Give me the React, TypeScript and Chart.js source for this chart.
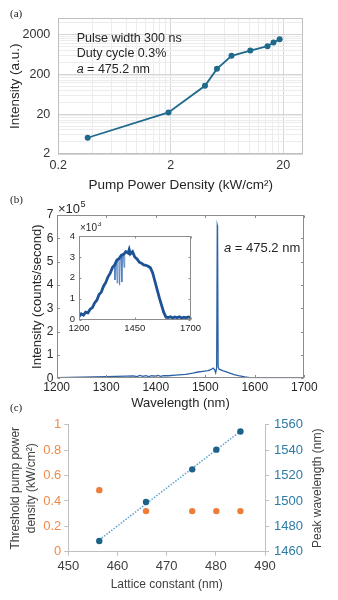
import React, { useEffect, useRef } from 'react';
import { Chart, registerables } from 'chart.js';

Chart.register(...registerables);

const FONT = '"Liberation Sans", Arial, Helvetica, sans-serif';
const SERIF = '"Liberation Serif", "Times New Roman", serif';

// ---------- Panel (a) ----------
const pumpDensity = [0.365, 1.91, 4.03, 5.15, 6.94, 10.2, 14.5, 16.4, 18.6];
const intensityA = [5.1, 22, 102, 271, 574, 780, 1000, 1235, 1500];
const xMajorA = [0.2, 2, 20];
const yMajorA = [2, 20, 200, 2000];
const xRangeA = [0.2, 30];
const yRangeA = [2, 5000];
const noteLinesA = ['Pulse width 300 ns', 'Duty cycle 0.3%'];
const latticeNote = ' = 475.2 nm';

// ---------- Panel (b) ----------
const wlMain = [1200, 1250, 1300, 1340, 1355, 1362, 1368, 1374, 1380, 1386, 1392, 1398, 1404, 1410, 1416, 1425, 1440, 1460, 1475, 1485, 1495, 1506, 1512, 1516, 1519, 1521, 1523, 1524.3, 1524.8, 1526, 1528, 1535, 1547, 1558, 1567, 1580, 1590, 1600, 1650, 1700];
const intMain = [0.03, 0.05, 0.07, 0.09, 0.1, 0.07, 0.12, 0.08, 0.11, 0.07, 0.11, 0.09, 0.12, 0.08, 0.11, 0.11, 0.14, 0.17, 0.22, 0.27, 0.3, 0.33, 0.38, 0.44, 0.36, 0.24, 0.45, 6.55, 6.5, 0.5, 0.39, 0.33, 0.24, 0.16, 0.11, 0.06, 0.03, 0.02, 0.02, 0.02];
const xTicksB = [1200, 1300, 1400, 1500, 1600, 1700];
const yTicksB = [0, 1, 2, 3, 4, 5, 6, 7];

const wlInset = [1200, 1210, 1220, 1230, 1240, 1250, 1260, 1270, 1280, 1290, 1300, 1310, 1320, 1330, 1340, 1350, 1360, 1370, 1380, 1390, 1400, 1410, 1420, 1425, 1430, 1440, 1450, 1460, 1470, 1480, 1490, 1500, 1510, 1520, 1530, 1540, 1550, 1560, 1570, 1580, 1590, 1600, 1610, 1620, 1630, 1640, 1650, 1660, 1670, 1680, 1690, 1700];
const intInset = [0.15, 0.28, 0.22, 0.36, 0.33, 0.5, 0.58, 0.8, 0.93, 1.2, 1.32, 1.6, 1.78, 2.05, 2.22, 2.5, 2.62, 2.85, 2.92, 3.08, 3.12, 3.25, 3.18, 3.35, 3.15, 3.25, 3.0, 2.9, 2.75, 2.7, 2.62, 2.6, 2.55, 2.48, 2.25, 1.85, 1.45, 1.05, 0.7, 0.35, 0.12, 0.1, 0.14, 0.08, 0.13, 0.09, 0.14, 0.08, 0.12, 0.09, 0.13, 0.1];
const wlInsetDips = [1358, 1361, 1364, 1368, 1371, 1374, 1379, 1382, 1385, 1389, 1392, 1395, 1399, 1402, 1405];
const intInsetDips = [2.6, 1.9, 2.75, 2.8, 1.75, 2.9, 2.95, 1.65, 3.0, 3.05, 1.8, 3.1, 3.12, 2.5, 3.18];
const insetXTicks = [1200, 1450, 1700];
const insetYTicks = [0, 1, 2, 3, 4];

// ---------- Panel (c) ----------
const lattice = [456.3, 465.8, 475.2, 480.1, 485.0];
const thresholdDensity = [0.485, 0.32, 0.32, 0.32, 0.32];
const peakWavelength = [1468.4, 1499.2, 1524.9, 1540.4, 1554.7];
const trendLattice = [456.3, 485.0];
const trendWavelength = [1469.3, 1554.9];
const xTicksC = [450, 460, 470, 480, 490];
const yLeftTicksC = [0, 0.2, 0.4, 0.6, 0.8, 1];
const yRightTicksC = [1460, 1480, 1500, 1520, 1540, 1560];

// ---------- colours ----------
const LINE_A = '#1f6a8c';
const LINE_B = '#2a62a8';
const LINE_INSET = '#1d5296';
const AXIS_B = '#8c8c8c';
const ORANGE = '#ef7d3a';
const ORANGE_TXT = '#f08a4b';
const BLUE_C = '#1d6289';
const BLUE_TXT = '#2f7aa6';
const TREND = '#5fa0d0';
const GRAY_AX = '#bfbfbf';

const minorMult = [1, 2, 3, 4, 5, 6, 7, 8, 9];
function logGrid(majors: number[], max: number) {
  const out: number[] = [];
  for (const m of majors) for (const k of minorMult) {
    const v = +(m * k).toPrecision(6);
    if (v <= max + 1e-9) out.push(v);
  }
  return out;
}
const setTicks = (vals: number[]) => (s: any) => { s.ticks = vals.map((v) => ({ value: v })); };

function supText(ctx: CanvasRenderingContext2D, x: number, y: number, base: string, sup: string, size: number, color: string) {
  ctx.save();
  ctx.fillStyle = color;
  ctx.textBaseline = 'middle';
  ctx.textAlign = 'left';
  ctx.font = `${size}px ${FONT}`;
  ctx.fillText(base, x, y);
  const w = ctx.measureText(base).width;
  ctx.font = `${size * 0.7}px ${FONT}`;
  ctx.fillText(sup, x + w + 0.5, y - size * 0.38);
  ctx.restore();
}
function italicA(ctx: CanvasRenderingContext2D, x: number, y: number, rest: string, size: number, color: string) {
  ctx.save();
  ctx.fillStyle = color;
  ctx.textBaseline = 'middle';
  ctx.textAlign = 'left';
  ctx.font = `italic ${size}px ${FONT}`;
  ctx.fillText('a', x, y);
  const w = ctx.measureText('a').width;
  ctx.font = `${size}px ${FONT}`;
  ctx.fillText(rest, x + w, y);
  ctx.restore();
}

function matlabBox(tickLen: number, fillWhite: boolean, extra?: (chart: any) => void) {
  return {
    id: 'mbox',
    beforeDraw(chart: any) {
      if (!fillWhite) return;
      const { ctx, chartArea: a } = chart;
      ctx.save();
      ctx.fillStyle = '#ffffff';
      ctx.fillRect(a.left, a.top, a.right - a.left, a.bottom - a.top);
      ctx.restore();
    },
    afterDraw(chart: any) {
      const { ctx, chartArea: a, scales } = chart;
      const L = Math.round(a.left) + 0.5, R = Math.round(a.right) - 0.5;
      const T = Math.round(a.top) + 0.5, B = Math.round(a.bottom) - 0.5;
      ctx.save();
      ctx.strokeStyle = AXIS_B;
      ctx.lineWidth = 1;
      ctx.strokeRect(L, T, R - L, B - T);
      ctx.beginPath();
      for (const t of scales.x.ticks) {
        const px = Math.round(scales.x.getPixelForValue(t.value)) + 0.5;
        ctx.moveTo(px, B); ctx.lineTo(px, B - tickLen);
        ctx.moveTo(px, T); ctx.lineTo(px, T + tickLen);
      }
      for (const t of scales.y.ticks) {
        const py = Math.round(scales.y.getPixelForValue(t.value)) + 0.5;
        ctx.moveTo(L, py); ctx.lineTo(L + tickLen, py);
        ctx.moveTo(R, py); ctx.lineTo(R - tickLen, py);
      }
      ctx.stroke();
      ctx.restore();
      if (extra) extra(chart);
    },
  };
}

export default function App() {
  const refA = useRef<HTMLCanvasElement>(null);
  const refB = useRef<HTMLCanvasElement>(null);
  const refI = useRef<HTMLCanvasElement>(null);
  const refC = useRef<HTMLCanvasElement>(null);

  useEffect(() => {
    const charts: Chart[] = [];
    const gridXA = logGrid(xMajorA, xRangeA[1]);
    const gridYA = logGrid(yMajorA, yRangeA[1]);

    // ---------- (a) ----------
    const boxA = {
      id: 'boxA',
      beforeDatasetsDraw(chart: any) {
        const { ctx, chartArea: a } = chart;
        ctx.save();
        ctx.strokeStyle = GRAY_AX;
        ctx.lineWidth = 1;
        ctx.strokeRect(Math.round(a.left) + 0.5, Math.round(a.top) + 0.5, Math.round(a.right - a.left) - 1, Math.round(a.bottom - a.top) - 1);
        ctx.restore();
      },
      afterDraw(chart: any) {
        const { ctx, chartArea: a } = chart;
        ctx.save();
        ctx.fillStyle = '#262626';
        ctx.textBaseline = 'middle';
        ctx.font = `12.5px ${FONT}`;
        const x = a.left + 18.4;
        ctx.fillText(noteLinesA[0], x, a.top + 20.7);
        ctx.fillText(noteLinesA[1], x, a.top + 35);
        ctx.restore();
        italicA(ctx, a.left + 18.4, a.top + 51, latticeNote, 12.5, '#262626');
      },
    };
    charts.push(new Chart(refA.current!, {
      type: 'line',
      data: {
        datasets: [{
          data: pumpDensity.map((x, i) => ({ x, y: intensityA[i] })),
          borderColor: LINE_A,
          backgroundColor: LINE_A,
          borderWidth: 1.8,
          pointRadius: 3,
          pointBorderWidth: 0,
          tension: 0,
        }],
      },
      options: {
        animation: false,
        responsive: false,
        devicePixelRatio: 1,
        layout: { padding: { top: 18.3, right: 35, left: 0, bottom: 0 } },
        plugins: { legend: { display: false }, tooltip: { enabled: false } },
        scales: {
          x: {
            type: 'logarithmic',
            min: xRangeA[0],
            max: xRangeA[1],
            afterBuildTicks: setTicks(gridXA),
            afterFit: (s: any) => { s.height = 43; },
            grid: { color: (c: any) => (xMajorA.includes(c.tick?.value) ? '#d6d6d6' : '#ececec'), drawTicks: false },
            border: { display: false },
            ticks: {
              autoSkip: false, maxRotation: 0, padding: 4,
              font: { family: FONT, size: 12.5 }, color: '#333333',
              callback: (v: any) => (xMajorA.includes(v) ? String(v) : ''),
            },
            title: { display: true, text: 'Pump Power Density (kW/cm²)', font: { family: FONT, size: 13.5 }, color: '#262626', padding: { top: 0, bottom: 3.9 } },
          },
          y: {
            type: 'logarithmic',
            min: yRangeA[0],
            max: yRangeA[1],
            afterBuildTicks: setTicks(gridYA),
            afterFit: (s: any) => { s.width = 58.3; },
            grid: { color: (c: any) => (yMajorA.includes(c.tick?.value) ? '#d6d6d6' : '#ececec'), drawTicks: false },
            border: { display: false },
            ticks: {
              autoSkip: false, padding: 8,
              font: { family: FONT, size: 12.5 }, color: '#333333',
              callback: (v: any) => (yMajorA.includes(v) ? String(v) : ''),
            },
            title: { display: true, text: 'Intensity (a.u.)', font: { family: FONT, size: 13.5 }, color: '#262626', padding: { top: 6.9, bottom: 0 } },
          },
        },
      } as any,
      plugins: [boxA],
    }));

    // ---------- (b) main ----------
    const extraB = (chart: any) => {
      const { ctx, chartArea: a } = chart;
      supText(ctx, a.left + 1.3, a.top - 6, '×10', '5', 13, '#262626');
      italicA(ctx, a.left + 167.3, a.top + 33.3, latticeNote, 13, '#262626');
    };
    charts.push(new Chart(refB.current!, {
      type: 'line',
      data: {
        datasets: [{
          data: wlMain.map((x, i) => ({ x, y: intMain[i] })),
          borderColor: LINE_B,
          borderWidth: 1.3,
          pointRadius: 0,
          tension: 0,
        }],
      },
      options: {
        animation: false,
        responsive: false,
        devicePixelRatio: 1,
        layout: { padding: { top: 18, right: 33.7, left: 0, bottom: 0 } },
        plugins: { legend: { display: false }, tooltip: { enabled: false } },
        scales: {
          x: {
            type: 'linear', min: 1200, max: 1700,
            afterBuildTicks: setTicks(xTicksB),
            afterFit: (s: any) => { s.height = 33.7; },
            grid: { display: false, drawTicks: false },
            border: { display: false },
            ticks: { autoSkip: false, maxRotation: 0, padding: 2, font: { family: FONT, size: 12 }, color: '#262626', callback: (v: any) => String(v) },
            title: { display: true, text: 'Wavelength (nm)', font: { family: FONT, size: 13 }, color: '#262626', padding: { top: 0, bottom: 1.2 } },
          },
          y: {
            type: 'linear', min: 0, max: 7,
            afterBuildTicks: setTicks(yTicksB),
            afterFit: (s: any) => { s.width = 56.7; },
            grid: { display: false, drawTicks: false },
            border: { display: false },
            ticks: { autoSkip: false, padding: 3.4, font: { family: FONT, size: 12 }, color: '#262626', callback: (v: any) => String(v) },
            title: { display: true, text: 'Intensity (counts/second)', font: { family: FONT, size: 13 }, color: '#262626', padding: { top: 29.7, bottom: 0 } },
          },
        },
      } as any,
      plugins: [matlabBox(2.5, false, extraB)],
    }));

    // ---------- (b) inset ----------
    const extraI = (chart: any) => {
      const { ctx, chartArea: a } = chart;
      supText(ctx, a.left + 1, a.top - 7.7, '×10', '3', 10, '#262626');
    };
    charts.push(new Chart(refI.current!, {
      type: 'line',
      data: {
        datasets: [
          {
            data: wlInset.map((x, i) => ({ x, y: intInset[i] })),
            borderColor: LINE_INSET,
            borderWidth: 2.8,
            pointRadius: 0,
            tension: 0,
          },
          {
            data: wlInsetDips.map((x, i) => ({ x, y: intInsetDips[i] })),
            borderColor: '#4f7fbf',
            borderWidth: 0.9,
            pointRadius: 0,
            tension: 0,
          },
        ],
      },
      options: {
        animation: false,
        responsive: false,
        devicePixelRatio: 1,
        layout: { padding: { top: 14, right: 12.3, left: 0, bottom: 0 } },
        plugins: { legend: { display: false }, tooltip: { enabled: false } },
        scales: {
          x: {
            type: 'linear', min: 1200, max: 1700,
            afterBuildTicks: setTicks(insetXTicks),
            afterFit: (s: any) => { s.height = 16.3; },
            grid: { display: false, drawTicks: false },
            border: { display: false },
            ticks: { autoSkip: false, maxRotation: 0, padding: 2.9, font: { family: FONT, size: 9.5 }, color: '#262626', callback: (v: any) => String(v) },
          },
          y: {
            type: 'linear', min: 0, max: 4,
            afterBuildTicks: setTicks(insetYTicks),
            afterFit: (s: any) => { s.width = 21; },
            grid: { display: false, drawTicks: false },
            border: { display: false },
            ticks: { autoSkip: false, padding: 4, font: { family: FONT, size: 9.5 }, color: '#262626', callback: (v: any) => String(v) },
          },
        },
      } as any,
      plugins: [matlabBox(2, true, extraI)],
    }));

    // ---------- (c) ----------
    const titleC = {
      id: 'titleC',
      afterDraw(chart: any) {
        const { ctx, chartArea: a } = chart;
        ctx.save();
        ctx.translate(a.right + 53, (a.top + a.bottom) / 2);
        ctx.rotate(-Math.PI / 2);
        ctx.fillStyle = '#404040';
        ctx.font = `12px ${FONT}`;
        ctx.textAlign = 'center';
        ctx.textBaseline = 'middle';
        ctx.fillText('Peak wavelength (nm)', 0, 0);
        ctx.restore();
      },
    };
    const axisGrid = { drawOnChartArea: false, drawTicks: true, tickLength: 4, color: GRAY_AX };
    charts.push(new Chart(refC.current!, {
      type: 'line',
      data: {
        datasets: [
          {
            data: lattice.map((x, i) => ({ x, y: thresholdDensity[i] })),
            yAxisID: 'yL',
            showLine: false,
            pointRadius: 3.2,
            pointBorderWidth: 0,
            backgroundColor: ORANGE,
            borderColor: ORANGE,
          },
          {
            data: lattice.map((x, i) => ({ x, y: peakWavelength[i] })),
            yAxisID: 'yR',
            showLine: false,
            pointRadius: 3.2,
            pointBorderWidth: 0,
            backgroundColor: BLUE_C,
            borderColor: BLUE_C,
          },
          {
            data: trendLattice.map((x, i) => ({ x, y: trendWavelength[i] })),
            yAxisID: 'yR',
            borderColor: TREND,
            borderWidth: 1.5,
            borderDash: [1.5, 1.5],
            pointRadius: 0,
            tension: 0,
          },
        ],
      },
      options: {
        animation: false,
        responsive: false,
        devicePixelRatio: 1,
        layout: { padding: { top: 12.3, right: 0, left: 0, bottom: 0 } },
        plugins: { legend: { display: false }, tooltip: { enabled: false } },
        scales: {
          x: {
            type: 'linear', min: 450, max: 490,
            afterBuildTicks: setTicks(xTicksC),
            afterFit: (s: any) => { s.height = 48.3; },
            grid: axisGrid,
            border: { display: true, color: GRAY_AX },
            ticks: { autoSkip: false, maxRotation: 0, padding: 3, font: { family: FONT, size: 13 }, color: '#404040', callback: (v: any) => String(v) },
            title: { display: true, text: 'Lattice constant (nm)', font: { family: FONT, size: 12 }, color: '#404040', padding: { top: 0, bottom: 7.8 } },
          },
          yL: {
            type: 'linear', position: 'left', min: 0, max: 1,
            afterBuildTicks: setTicks(yLeftTicksC),
            afterFit: (s: any) => { s.width = 68.3; },
            grid: axisGrid,
            border: { display: true, color: GRAY_AX },
            ticks: { autoSkip: false, padding: 3, font: { family: FONT, size: 13 }, color: ORANGE_TXT, callback: (v: any) => String(v) },
            title: { display: true, text: ['Threshold pump power', 'density (kW/cm²)'], font: { family: FONT, size: 12, lineHeight: 1.4 }, color: '#404040', padding: { top: 6.9, bottom: 0 } },
          },
          yR: {
            type: 'linear', position: 'right', min: 1460, max: 1560,
            afterBuildTicks: setTicks(yRightTicksC),
            afterFit: (s: any) => { s.width = 73; },
            grid: axisGrid,
            border: { display: true, color: GRAY_AX },
            ticks: { autoSkip: false, padding: 5, font: { family: FONT, size: 13 }, color: BLUE_TXT, callback: (v: any) => String(v) },
          },
        },
      } as any,
      plugins: [titleC],
    }));

    return () => { charts.forEach((c) => c.destroy()); };
  }, []);

  const abs = (left: number, top: number, w: number, h: number): React.CSSProperties => ({
    position: 'absolute', left, top, width: w, height: h, display: 'block',
  });
  const lbl = (top: number): React.CSSProperties => ({
    position: 'absolute', left: 10, top, fontFamily: SERIF, fontSize: 11, lineHeight: '13px', color: '#222', zIndex: 5,
  });

  return (
    <div style={{ position: 'absolute', left: 0, top: 0, width: 338, height: 600, background: '#ffffff', overflow: 'hidden' }}>
      <canvas ref={refA} width={338} height={197} style={abs(0, 0, 338, 197)} />
      <canvas ref={refB} width={338} height={215} style={abs(0, 197, 338, 215)} />
      <canvas ref={refI} width={146} height={114} style={abs(58, 222, 146, 114)} />
      <canvas ref={refC} width={338} height={188} style={abs(0, 412, 338, 188)} />
      <div style={lbl(7)}>(a)</div>
      <div style={lbl(192.5)}>(b)</div>
      <div style={lbl(401)}>(c)</div>
    </div>
  );
}
